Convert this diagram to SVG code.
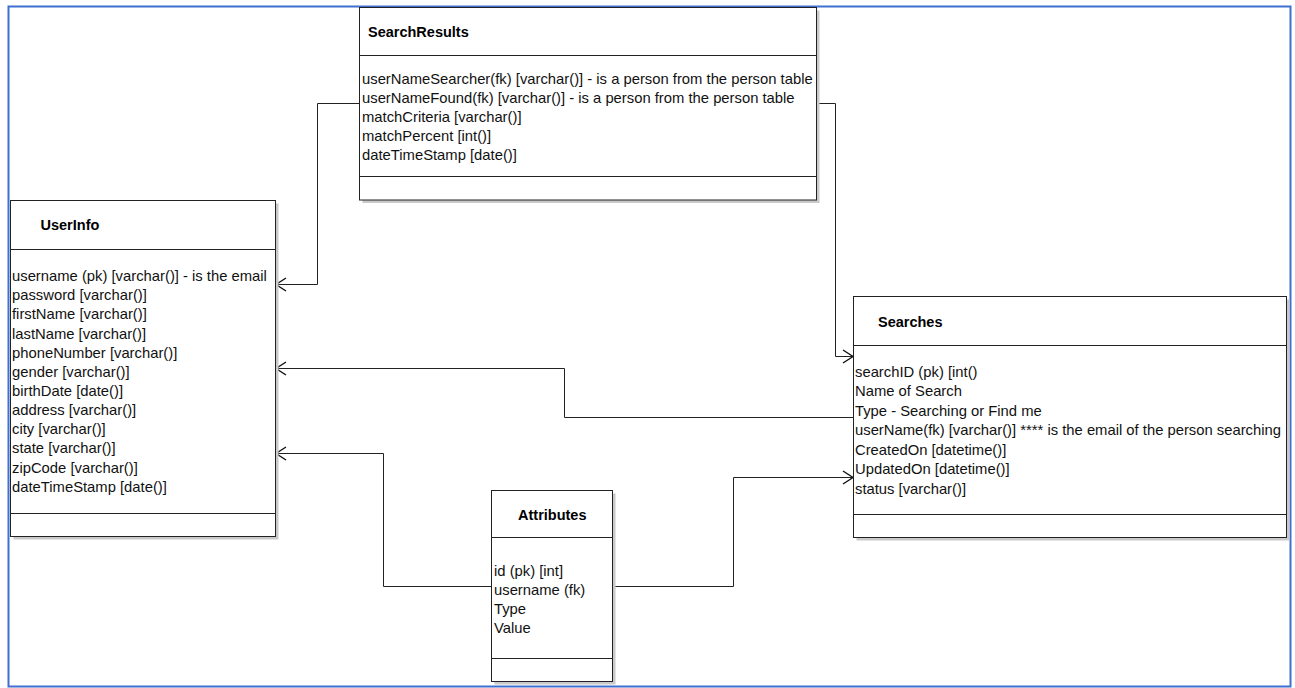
<svg xmlns="http://www.w3.org/2000/svg" width="1295" height="688" viewBox="0 0 1295 688">
<style>
.frame{fill:#fff;stroke:#3f6fcf;stroke-width:2}
.box{fill:#fff;stroke:#222;stroke-width:1}
.shadow{fill:#c9c9c9;stroke:none}
.div{stroke:#222;stroke-width:1}
.title{font-family:"Liberation Sans",Arial,sans-serif;font-size:14.5px;font-weight:bold;fill:#000}
.attr{font-family:"Liberation Sans",Arial,sans-serif;font-size:14.8px;fill:#111}
.conn{fill:none;stroke:#222;stroke-width:1}
</style>
<defs>
<marker id="arr" markerUnits="userSpaceOnUse" markerWidth="14" markerHeight="16" viewBox="-2 -8 14 16" refX="10" refY="0" orient="auto">
<path d="M0,-6.5 L10,0 L0,6.5" fill="none" stroke="#111" stroke-width="1.4"/>
</marker>
</defs>
<rect x="0" y="0" width="1295" height="688" fill="#fff"/>
<rect class="frame" x="8.5" y="6.5" width="1282" height="680"/>

<g id="connectors">
<path class="conn" d="M359.5,103.5 H317.5 V284.5 H276" marker-end="url(#arr)"/>
<path class="conn" d="M816.5,103.5 H835.5 V356.5 H853" marker-end="url(#arr)"/>
<path class="conn" d="M853.5,417.5 H564.5 V368.5 H276" marker-end="url(#arr)"/>
<path class="conn" d="M491.5,586.5 H383.5 V453.5 H276" marker-end="url(#arr)"/>
<path class="conn" d="M612.5,586.5 H733.5 V477.5 H853" marker-end="url(#arr)"/>
</g>

<g id="SearchResults">
<rect class="shadow" x="362.5" y="10.5" width="457" height="192.5"/>
<rect class="box" x="359.5" y="7.5" width="457" height="192.5"/>
<line class="div" x1="359.5" y1="55.5" x2="816.5" y2="55.5"/>
<line class="div" x1="359.5" y1="176.5" x2="816.5" y2="176.5"/>
<text class="title" x="368" y="37">SearchResults</text>
<text class="attr" x="362" y="84">userNameSearcher(fk) [varchar()] - is a person from the person table</text>
<text class="attr" x="362" y="103">userNameFound(fk) [varchar()] - is a person from the person table</text>
<text class="attr" x="362" y="122">matchCriteria [varchar()]</text>
<text class="attr" x="362" y="141">matchPercent [int()]</text>
<text class="attr" x="362" y="160">dateTimeStamp [date()]</text>
</g>

<g id="UserInfo">
<rect class="shadow" x="13.5" y="203.5" width="265" height="336"/>
<rect class="box" x="10.5" y="200.5" width="265" height="336"/>
<line class="div" x1="10.5" y1="249.5" x2="275.5" y2="249.5"/>
<line class="div" x1="10.5" y1="513.5" x2="275.5" y2="513.5"/>
<text class="title" x="40.5" y="230">UserInfo</text>
<text class="attr" x="12" y="281">username (pk) [varchar()] - is the email</text>
<text class="attr" x="12" y="300.2">password [varchar()]</text>
<text class="attr" x="12" y="319.3">firstName [varchar()]</text>
<text class="attr" x="12" y="338.5">lastName [varchar()]</text>
<text class="attr" x="12" y="357.6">phoneNumber [varchar()]</text>
<text class="attr" x="12" y="376.8">gender [varchar()]</text>
<text class="attr" x="12" y="395.9">birthDate [date()]</text>
<text class="attr" x="12" y="415.1">address [varchar()]</text>
<text class="attr" x="12" y="434.2">city [varchar()]</text>
<text class="attr" x="12" y="453.4">state [varchar()]</text>
<text class="attr" x="12" y="472.5">zipCode [varchar()]</text>
<text class="attr" x="12" y="491.7">dateTimeStamp [date()]</text>
</g>

<g id="Searches">
<rect class="shadow" x="856.5" y="299.5" width="433" height="241"/>
<rect class="box" x="853.5" y="296.5" width="433" height="241"/>
<line class="div" x1="853.5" y1="345.5" x2="1286.5" y2="345.5"/>
<line class="div" x1="853.5" y1="514.5" x2="1286.5" y2="514.5"/>
<text class="title" x="878" y="327">Searches</text>
<text class="attr" x="855" y="376.5">searchID (pk) [int()</text>
<text class="attr" x="855" y="396">Name of Search</text>
<text class="attr" x="855" y="415.5">Type - Searching or Find me</text>
<text class="attr" x="855" y="435">userName(fk) [varchar()] **** is the email of the person searching</text>
<text class="attr" x="855" y="454.5">CreatedOn [datetime()]</text>
<text class="attr" x="855" y="474">UpdatedOn [datetime()]</text>
<text class="attr" x="855" y="493.5">status [varchar()]</text>
</g>

<g id="Attributes">
<rect class="shadow" x="494.5" y="493.5" width="121" height="191"/>
<rect class="box" x="491.5" y="490.5" width="121" height="191"/>
<line class="div" x1="491.5" y1="537.5" x2="612.5" y2="537.5"/>
<line class="div" x1="491.5" y1="658.5" x2="612.5" y2="658.5"/>
<text class="title" x="518" y="519.5">Attributes</text>
<text class="attr" x="494" y="575.5">id (pk) [int]</text>
<text class="attr" x="494" y="594.5">username (fk)</text>
<text class="attr" x="494" y="613.5">Type</text>
<text class="attr" x="494" y="632.5">Value</text>
</g>
</svg>
